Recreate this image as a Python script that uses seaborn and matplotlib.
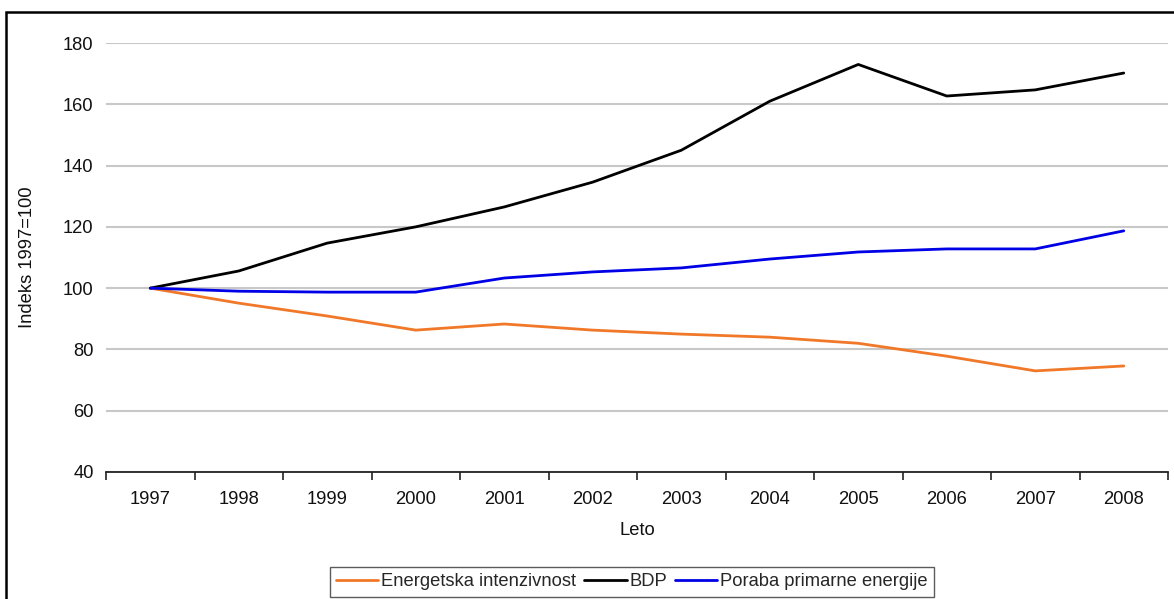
import matplotlib
matplotlib.use("Agg")
import matplotlib.pyplot as plt
import seaborn as sns
import pandas as pd
from matplotlib.patches import Rectangle

years = [1997, 1998, 1999, 2000, 2001, 2002, 2003, 2004, 2005, 2006, 2007, 2008]
energetska_intenzivnost = [100, 95.1, 90.9, 86.3, 88.3, 86.3, 85.0, 84.0, 82.0, 77.8, 73.0, 74.6]
bdp = [100, 105.6, 114.7, 120.0, 126.5, 134.6, 145.0, 161.0, 173.0, 162.7, 164.7, 170.2]
poraba_primarne_energije = [100, 99.0, 98.7, 98.7, 103.3, 105.3, 106.6, 109.5, 111.8, 112.8, 112.8, 118.7]

series_names = ["Energetska intenzivnost", "BDP", "Poraba primarne energije"]
series_values = [energetska_intenzivnost, bdp, poraba_primarne_energije]
colors = ["#F07828", "#000000", "#0000E6"]

rows = []
for name, vals in zip(series_names, series_values):
    for i, (yr, v) in enumerate(zip(years, vals)):
        rows.append({"pos": i, "Leto": yr, "value": v, "series": name})
df = pd.DataFrame(rows)

sns.set_theme(style="white")
plt.rcParams["font.family"] = ["Liberation Sans", "DejaVu Sans"]

FS = 13.2

fig = plt.figure(figsize=(11.74, 5.99), dpi=100)
ax = fig.add_axes([106 / 1174, 1 - 472 / 599, (1168 - 106) / 1174, (472 - 43) / 599])

sns.lineplot(data=df, x="pos", y="value", hue="series", hue_order=series_names,
             palette=colors, linewidth=2.0, ax=ax, legend=False)

ax.set_xlim(-0.5, len(years) - 0.5)
ax.set_ylim(40, 180)
ax.set_yticks(range(40, 181, 20))
ax.yaxis.grid(True, color="#C8C8C8", linewidth=1.5)
ax.set_axisbelow(True)

ax.set_xticks(range(len(years)))
ax.set_xticklabels([str(y) for y in years])
ax.set_xticks([i - 0.5 for i in range(len(years) + 1)], minor=True)
ax.tick_params(axis="x", which="major", length=0, pad=14, labelsize=FS, colors="#111111")
ax.tick_params(axis="x", which="minor", length=6, width=1.2, color="#222222", direction="out", bottom=True)
ax.tick_params(axis="y", length=0, pad=9, labelsize=FS, colors="#111111")

for side in ["left", "right", "top"]:
    ax.spines[side].set_visible(False)
ax.spines["bottom"].set_color("#222222")
ax.spines["bottom"].set_linewidth(1.3)

ax.set_xlabel("Leto", fontsize=FS, labelpad=10, color="#111111")
ax.set_ylabel("Indeks 1997=100", fontsize=FS, labelpad=19, color="#111111")

handles = [plt.Line2D([], [], color=c, linewidth=2.0) for c in colors]
leg = fig.legend(handles, series_names, loc="upper center",
                 bbox_to_anchor=(632 / 1174, 1 - 567 / 599), ncol=3,
                 frameon=True, fancybox=False, fontsize=FS,
                 handlelength=2.3, handletextpad=0.15, columnspacing=0.45,
                 borderpad=0.35, borderaxespad=0)
leg.get_frame().set_edgecolor("#333333")
leg.get_frame().set_linewidth(1.0)

# outer frame around the figure area
fig.patches.append(Rectangle((6 / 1174, -0.05), 1.1, 1 - 12 / 599 + 0.05,
                             transform=fig.transFigure, fill=False,
                             edgecolor="#000000", linewidth=1.8, zorder=-1))

fig.savefig("out.png", dpi=100)
